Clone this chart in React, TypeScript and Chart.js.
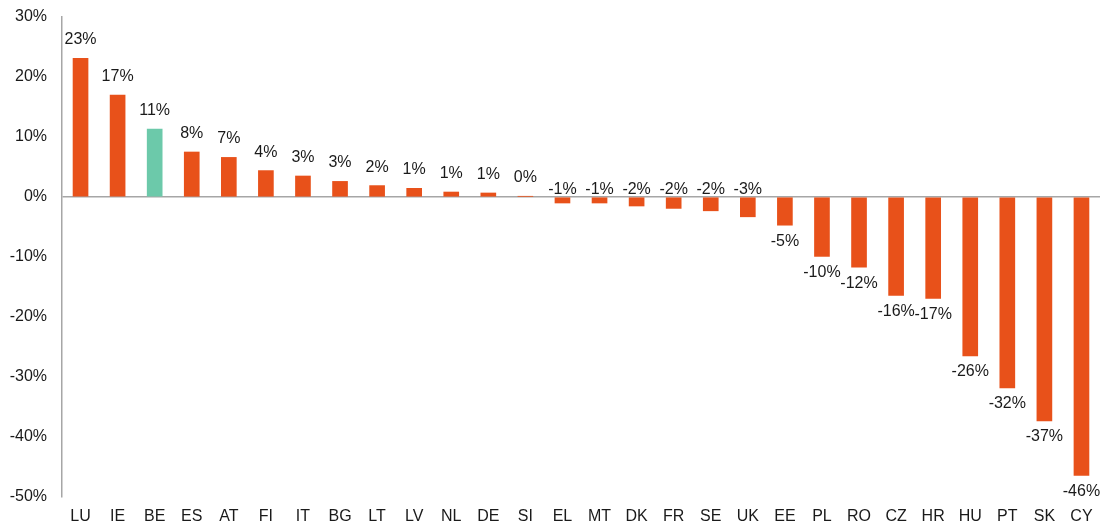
import React, { useEffect, useRef } from "react";
import { Chart, registerables } from "chart.js";

Chart.register(...registerables);

const categories = ["LU", "IE", "BE", "ES", "AT", "FI", "IT", "BG", "LT", "LV", "NL", "DE", "SI", "EL", "MT", "DK", "FR", "SE", "UK", "EE", "PL", "RO", "CZ", "HR", "HU", "PT", "SK", "CY"];
const values = [23.1, 17.0, 11.3, 7.5, 6.6, 4.4, 3.5, 2.6, 1.9, 1.45, 0.83, 0.67, 0.1, -1.0, -1.0, -1.5, -1.9, -2.3, -3.3, -4.7, -9.9, -11.7, -16.4, -16.9, -26.5, -31.8, -37.3, -46.4];
const valueLabels = ["23%", "17%", "11%", "8%", "7%", "4%", "3%", "3%", "2%", "1%", "1%", "1%", "0%", "-1%", "-1%", "-2%", "-2%", "-2%", "-3%", "-5%", "-10%", "-12%", "-16%", "-17%", "-26%", "-32%", "-37%", "-46%"];
const highlight = "BE";
const yMin = -50;
const yMax = 30;
const yStep = 10;

const ORANGE = "#E8511A";
const TEAL = "#6CC9AA";
const AXIS = "#A6A6A6";
const TEXT = "#1a1a1a";
const FONT = "'Liberation Sans', Arial, sans-serif";

const labelPlugin = {
  id: "valueLabels",
  afterDatasetsDraw(chart: any) {
    const ctx = chart.ctx;
    const meta = chart.getDatasetMeta(0);
    const yScale = chart.scales.y;
    const zeroY = yScale.getPixelForValue(0);
    ctx.save();
    ctx.font = `16px ${FONT}`;
    ctx.fillStyle = TEXT;
    ctx.textAlign = "center";
    ctx.textBaseline = "middle";
    meta.data.forEach((bar: any, i: number) => {
      const v = values[i];
      let y: number;
      if (v >= 0) y = bar.y - 18.5;
      else if (v > -4) y = zeroY - 7.5;
      else y = bar.y + 16;
      ctx.fillText(valueLabels[i], bar.x, y);
    });
    ctx.restore();
  },
};

export default function App() {
  const ref = useRef<HTMLCanvasElement | null>(null);
  useEffect(() => {
    if (!ref.current) return;
    const chart = new Chart(ref.current, {
      type: "bar",
      data: {
        labels: categories,
        datasets: [
          {
            data: values,
            backgroundColor: categories.map((c) => (c === highlight ? TEAL : ORANGE)),
            barThickness: 15,
            borderWidth: 0,
          },
        ],
      },
      options: {
        animation: false,
        responsive: true,
        maintainAspectRatio: false,
        layout: { padding: { top: 17, right: 6, bottom: 0, left: 0 } },
        plugins: { legend: { display: false }, tooltip: { enabled: false } },
        scales: {
          x: {
            grid: { display: false, drawTicks: false },
            border: { display: false },
            ticks: { color: TEXT, font: { size: 16, family: FONT }, padding: 10, maxRotation: 0, autoSkip: false },
            afterFit: (s: any) => {
              s.height = 31;
              s.paddingLeft = 0;
              s.paddingRight = 0;
            },
          },
          y: {
            min: yMin,
            max: yMax,
            ticks: {
              stepSize: yStep,
              color: TEXT,
              font: { size: 16, family: FONT },
              padding: 15,
              callback: (v: any) => `${v}%`,
            },
            grid: {
              drawTicks: false,
              color: (c: any) => (c.tick && c.tick.value === 0 ? AXIS : "rgba(0,0,0,0)"),
              lineWidth: 1.5,
            },
            border: { display: true, color: AXIS, width: 1.5 },
            afterFit: (s: any) => {
              s.width = 62;
              s.paddingTop = 0;
              s.paddingBottom = 0;
            },
          },
        },
      },
      plugins: [labelPlugin],
    });
    return () => chart.destroy();
  }, []);
  return (
    <div style={{ position: "fixed", left: 0, top: 0, width: 1106, height: 528, background: "#fff" }}>
      <canvas ref={ref} />
    </div>
  );
}
